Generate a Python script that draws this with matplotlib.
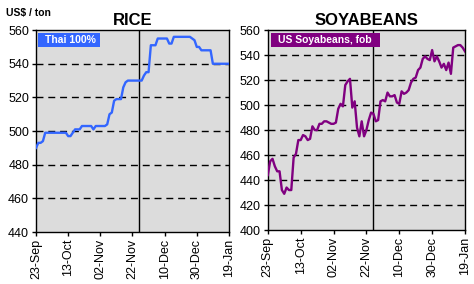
import numpy as np
import matplotlib.pyplot as plt
from matplotlib.patches import Rectangle

plt.rcParams['font.family'] = ['Liberation Sans', 'DejaVu Sans']

# x labels every 14 trading days
date_labels = ['23-Sep', '13-Oct', '02-Nov', '22-Nov', '10-Dec', '30-Dec', '19-Jan']

rice = [490, 493, 493, 494, 499, 499, 499, 499, 499, 499, 499, 499, 499, 499,
        497, 497, 499, 501, 501, 501, 503, 503, 503, 503, 503, 501, 503, 503,
        503, 503, 503, 504, 510, 511, 518, 519, 519, 519, 526, 529, 530, 530,
        530, 530, 530, 530, 530, 533, 535, 535, 551, 551, 551, 555, 555, 555,
        555, 555, 552, 552, 556, 556, 556, 556, 556, 556, 556, 556, 555, 554,
        550, 550, 548, 548, 548, 548, 548, 540, 540, 540, 540, 540, 540, 540, 540]

soy = [444, 455, 457, 451, 447, 447, 432, 429, 434, 432, 432, 458, 461, 472,
       472, 476, 475, 472, 473, 483, 480, 480, 485, 485, 487, 487, 486, 485,
       485, 486, 497, 501, 499, 516, 519, 521, 498, 503, 482, 475, 487, 475,
       480, 488, 494, 493, 487, 488, 503, 504, 503, 510, 507, 507, 508, 502,
       501, 511, 509, 510, 512, 518, 521, 522, 528, 530, 537, 539, 537, 536,
       544, 535, 539, 535, 530, 533, 528, 534, 525, 546, 547, 548, 548, 546, 543]

marker_idx = 45

fig = plt.figure(figsize=(4.74, 2.84), dpi=100)
fig.patch.set_facecolor('white')

ax1 = fig.add_axes([0.076, 0.183, 0.407, 0.711])
ax2 = fig.add_axes([0.565, 0.19, 0.416, 0.704])


def style(ax, data, color, ylo, label, title, box_x0, box_w):
    x = np.arange(len(data))
    ax.set_facecolor('#dcdcdc')
    ax.plot(x, data, color=color, lw=1.7, zorder=3)
    ax.axvline(marker_idx, color='black', lw=1, zorder=2)
    yt = np.arange(ylo, 561, 20)
    for v in yt[1:-1]:
        ax.axhline(v, color='black', lw=1, ls=(0, (5, 3.5)), zorder=1)
    ax.set_ylim(ylo, 560)
    ax.set_yticks(yt)
    ax.set_xlim(0, len(data) - 1)
    ax.set_xticks(np.arange(0, len(data), 14))
    ax.set_xticklabels(date_labels, rotation=90)
    ax.tick_params(labelsize=9, length=3, width=1, pad=2)
    for s in ax.spines.values():
        s.set_linewidth(1)
    ax.set_title(title, fontsize=12, fontweight='bold', pad=4)
    ax.add_patch(Rectangle((box_x0, 0.915), box_w, 0.07, transform=ax.transAxes,
                           fc=color, ec='none', zorder=5))
    ax.text(box_x0 + 0.035, 0.95, label, transform=ax.transAxes, ha='left',
            va='center', fontsize=7.5, fontweight='bold', color='white', zorder=6)


style(ax1, rice, '#3366ff', 440, 'Thai 100%', 'RICE', 0.01, 0.32)
style(ax2, soy, '#800080', 400, 'US Soyabeans, fob', 'SOYABEANS', 0.015, 0.555)

fig.text(0.013, 0.955, 'US$ / ton', fontsize=7.5, fontweight='bold', ha='left', va='center')

fig.savefig('out.png', dpi=100)
